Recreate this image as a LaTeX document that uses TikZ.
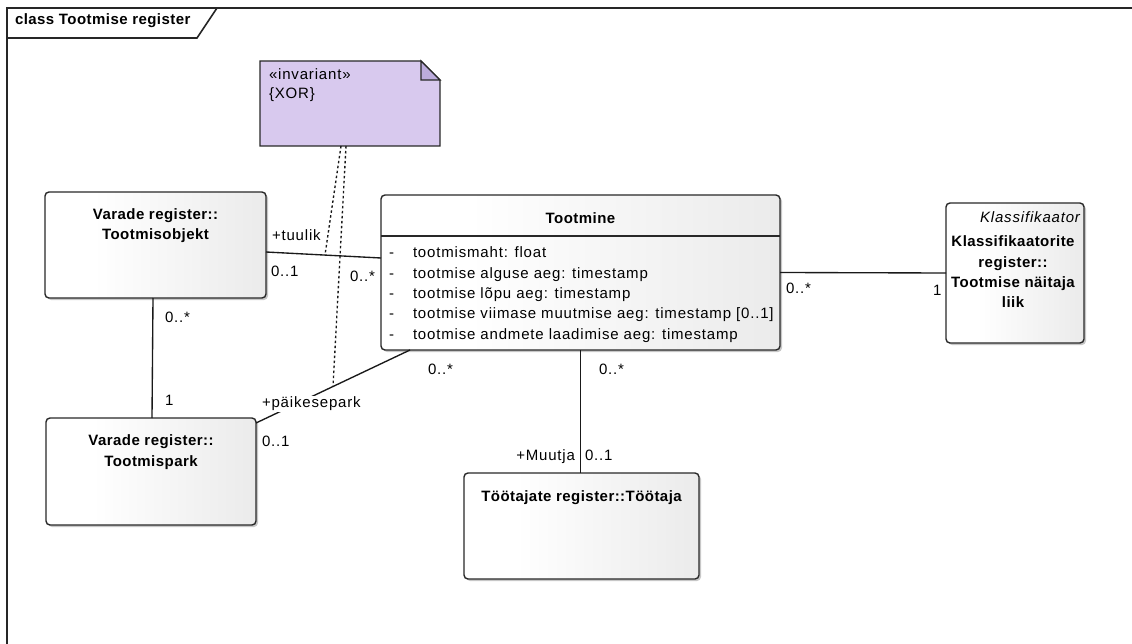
\documentclass[tikz,border=0pt]{standalone}
\usepackage{fontspec}
\setmainfont{Liberation Sans}[LetterSpace=5.5]
\newfontfamily\umlbold{Liberation Sans}[LetterSpace=3]
\usetikzlibrary{shadows,calc}

% class boxes: white on the left, fading to light grey on the right
\pgfdeclarehorizontalshading{boxshade}{100bp}{color(0bp)=(white); color(36bp)=(white); color(100bp)=(black!13)}
\definecolor{notefill}{RGB}{216,201,238}
\definecolor{notefold}{RGB}{188,172,220}
\definecolor{edge}{RGB}{40,40,40}

\begin{document}
\begin{tikzpicture}[x=1pt,y=-1pt,
  every node/.style={inner sep=0pt, outer sep=0pt},
  txt/.style={font=\fontsize{15}{20.3}\selectfont, text=black},
  bold/.style={font=\umlbold\bfseries\fontsize{15}{20.3}\selectfont, text=black},
  classbox/.style={draw=edge, line width=1.4pt, rounded corners=4pt, shading=boxshade,
    drop shadow={shadow xshift=2pt, shadow yshift=-2pt, opacity=0.22, fill=black},
    anchor=north west},
  assoc/.style={draw=black!90, line width=1.35pt},
  noteline/.style={draw=black!90, line width=1.35pt, dash pattern=on 2.5pt off 2.5pt},
  frameline/.style={draw=black!85, line width=1.6pt},
  mult/.style={txt, anchor=base west},
]
\useasboundingbox (0,0) rectangle (1132,644);

% diagram frame with its name tab
\draw[frameline] (7,644) -- (7,8) -- (1132,8);
\draw[frameline] (7,38) -- (197,38) -- (217,8);
\node[bold, anchor=base west] (frametitle) at (15,25) {class Tootmise register};

% classes
\node[classbox, minimum width=221pt, minimum height=106pt] (obj) at (45,192) {};
\node[bold, align=center, anchor=north] (objname) at ($(obj.north)+(0,16.5)$) {Varade register::\\Tootmisobjekt};

\node[classbox, minimum width=210pt, minimum height=107pt] (park) at (46,418) {};
\node[bold, align=center, anchor=north] (parkname) at ($(park.north)+(0,17)$) {Varade register::\\Tootmispark};

\node[classbox, minimum width=235pt, minimum height=106pt] (worker) at (464,473) {};
\node[bold, anchor=north] (workername) at ($(worker.north)+(0,17.5)$) {Töötajate register::Töötaja};

\node[classbox, minimum width=138pt, minimum height=140pt] (klass) at (946,203) {};
\node[txt, font=\itshape\fontsize{15}{20.3}\selectfont, anchor=north east] (klassstereo) at ($(klass.north east)+(-4,8.5)$) {Klassifikaator};
\node[bold, align=center, anchor=north] (klassname) at ($(klass.north)+(-2,33)$) {Klassifikaatorite\\register::\\Tootmise näitaja\\liik};

\node[classbox, minimum width=399pt, minimum height=155pt] (prod) at (381,195) {};
\node[bold, anchor=north] (prodname) at ($(prod.north)+(0,17.5)$) {Tootmine};
\draw[draw=edge, line width=1.4pt] ($(prod.north west)+(0,41)$) -- ($(prod.north east)+(0,41)$);
\foreach \i/\attr in {0/{tootmismaht: float},
                      1/{tootmise alguse aeg: timestamp},
                      2/{tootmise lõpu aeg: timestamp},
                      3/{tootmise viimase muutmise aeg: timestamp [0..1]},
                      4/{tootmise andmete laadimise aeg: timestamp}}{
  \node[mult] (dash\i) at ($(prod.north west)+(8,63+20.25*\i)$) {-};
  \node[mult] (attr\i) at ($(prod.north west)+(32,63+20.25*\i)$) {\attr};
}

% constraint note
\node[minimum width=180pt, minimum height=85pt, anchor=north west] (note) at (260,61) {};
\filldraw[fill=notefill, draw=edge, line width=1.3pt]
  (note.north west) -- ($(note.north east)+(-19,0)$) -- ($(note.north east)+(0,19)$)
  -- (note.south east) -- (note.south west) -- cycle;
\filldraw[fill=notefold, draw=edge, line width=1.3pt]
  ($(note.north east)+(-19,0)$) -- ($(note.north east)+(-19,19)$) -- ($(note.north east)+(0,19)$) -- cycle;
\node[txt, anchor=base west] (notestereo) at ($(note.north west)+(9,18.5)$) {«invariant»};
\node[txt, anchor=base west] (notebody) at ($(note.north west)+(9,37.5)$) {\{XOR\}};

% associations
\draw[assoc] ([yshift=-7pt]obj.east) -- coordinate[pos=0.513] (tuulikpt) ([yshift=14.5pt]prod.west);
\draw[assoc] (prod.east) -- (klass.west);
\draw[assoc] ([xshift=-2.5pt]obj.south) -- ([xshift=1pt]park.north);
\draw[assoc] ([yshift=-5pt]park.north east) -- coordinate[pos=0.5] (parkpt) ([xshift=29pt]prod.south west);
\draw[assoc] (prod.south) -- (prod.south |- worker.north);

% note attachments
\draw[noteline] ([xshift=-9pt]note.south) -- (tuulikpt);
\draw[noteline] ([xshift=-4pt]note.south) -- (parkpt);

% roles and multiplicities
\node[mult] (roletuulik) at (272,240.5) {+tuulik};
\node[mult] (m1) at (271,276.5) {0..1};
\node[mult] (m2) at (350,281) {0..*};
\node[mult] (m3) at (786,294) {0..*};
\node[mult] (m4) at (933,295) {1};
\node[mult] (m5) at (165,323) {0..*};
\node[mult] (m6) at (165,405) {1};
\node[mult, fill=white, inner xsep=1.5pt, inner ysep=1pt] (rolepark) at (260.5,407.5) {+päikesepark};
\node[mult] (m7) at (262,446) {0..1};
\node[mult] (m8) at (428,374) {0..*};
\node[mult] (m9) at (599,374) {0..*};
\node[txt, anchor=base east] (rolemuutja) at (575,460.5) {+Muutja};
\node[mult] (m10) at (585,460.5) {0..1};
\end{tikzpicture}
\end{document}
